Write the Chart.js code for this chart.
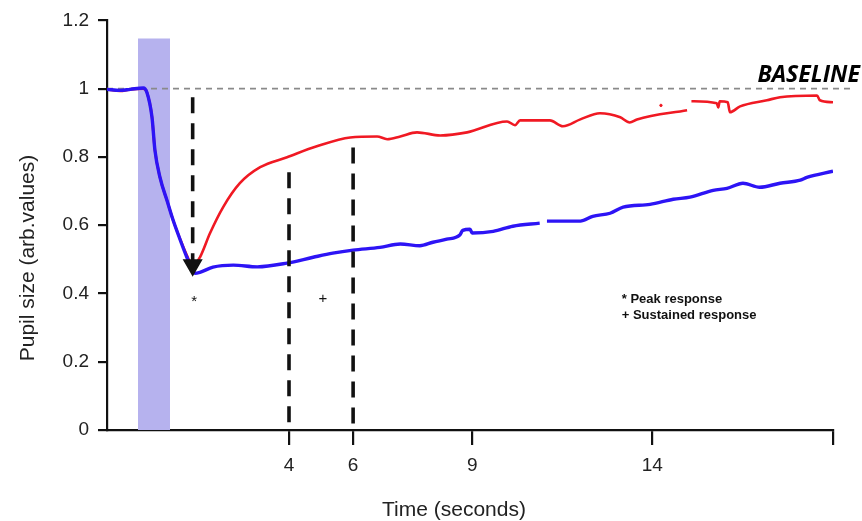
<!DOCTYPE html>
<html>
<head>
<meta charset="utf-8">
<script src="https://cdn.jsdelivr.net/npm/chart.js@4/dist/chart.umd.min.js"></script>
<style>
  html, body { margin: 0; padding: 0; background: #ffffff; }
  #wrap { width: 862px; height: 521px; }
</style>
</head>
<body>
<div id="wrap"><canvas id="c" width="862" height="521"></canvas></div>
<script>
// ---- Data (x in axis-position units 0..100 along the time axis) ----
const xTickPositions = [25.07, 33.9, 50.3, 75.1, 100];
const xTickLabels = ['4', '6', '9', '14', ''];
const yTicks = [0, 0.2, 0.4, 0.6, 0.8, 1, 1.2];

const blueX = [0, 1.8, 3.2, 5.0, 5.5, 6.2, 6.6, 7.3, 8.3, 9.1, 10.1, 11.0, 11.8, 12.1, 12.8, 14.6, 17.4, 20.7, 24.8, 28.4, 31.1, 33.9, 37.6, 40.4, 43.1, 44.9, 46.8, 48.6, 49.0, 50.0, 50.3, 53.2, 55.9, 59.6, 60.1, 60.6, 65.2, 66.9, 69.3, 71.1, 74.8, 78.0, 80.3, 83.5, 85.4, 87.6, 89.9, 92.7, 95.5, 96.4, 100];
const blueY = [0.998, 0.995, 0.998, 1.002, 0.989, 0.916, 0.82, 0.74, 0.67, 0.615, 0.556, 0.506, 0.47, 0.459, 0.462, 0.477, 0.483, 0.478, 0.489, 0.506, 0.518, 0.527, 0.535, 0.545, 0.54, 0.55, 0.559, 0.571, 0.585, 0.588, 0.577, 0.582, 0.597, 0.606, null, 0.612, 0.612, 0.626, 0.635, 0.653, 0.661, 0.676, 0.682, 0.702, 0.708, 0.723, 0.711, 0.723, 0.732, 0.740, 0.758];

const redX = [0, 1.8, 3.2, 5.0, 5.5, 6.2, 6.6, 7.3, 8.3, 9.1, 10.1, 11.0, 11.8, 12.8, 14.2, 16.0, 18.3, 21.1, 24.8, 28.9, 33.5, 37.2, 38.6, 40.4, 42.7, 45.9, 49.6, 55.1, 56.2, 56.9, 61.0, 62.8, 65.2, 67.9, 70.7, 72.0, 73.0, 79.9, 80.1, 80.5, 84.0, 84.2, 84.4, 85.5, 85.8, 87.2, 90.9, 92.7, 97.8, 98.2, 100];
const redY = [0.998, 0.993, 0.998, 1.0, 0.989, 0.916, 0.82, 0.74, 0.67, 0.615, 0.558, 0.512, 0.48, 0.506, 0.577, 0.653, 0.723, 0.770, 0.799, 0.831, 0.857, 0.860, 0.852, 0.860, 0.872, 0.863, 0.872, 0.904, 0.893, 0.907, 0.907, 0.890, 0.910, 0.928, 0.916, 0.901, 0.910, 0.937, null, 0.963, 0.957, 0.945, 0.963, 0.960, 0.931, 0.948, 0.966, 0.975, 0.980, 0.966, 0.960];
const redDotX = [76.3];
const redDotY = [0.951];

const stimulusX = [4.27, 8.68];
const stimulusTop = 1.147;
const baselineX = [0, 102.75];
const baselineValue = 1;

const peakLineX = 11.8, peakLineY = [0.975, 0.483];
const sustainLine1X = 25.07, sustainLine1Y = [0.755, 0];
const sustainLine2X = 33.9, sustainLine2Y = [0.828, 0];

const pts = (xs, ys) => xs.map((x, i) => ({ x: x, y: ys[i] }));

const FONT = '"Liberation Sans", Arial, Helvetica, sans-serif';

const annotations = {
  id: 'annotations',
  afterDraw(chart) {
    const ctx = chart.ctx;
    const xs = chart.scales.x, ys = chart.scales.y;
    ctx.save();
    ctx.fillStyle = '#222';
    // axis titles
    ctx.font = '21px ' + FONT;
    ctx.textAlign = 'center';
    ctx.textBaseline = 'middle';
    ctx.fillText('Time (seconds)', 454, 510);
    ctx.save();
    ctx.translate(28, 258);
    ctx.rotate(-Math.PI / 2);
    ctx.fillText('Pupil size (arb.values)', 0, 0);
    ctx.restore();
    // markers
    ctx.fillStyle = '#111';
    ctx.font = '15px ' + FONT;
    ctx.fillText('*', xs.getPixelForValue(12.0), ys.getPixelForValue(0.375));
    ctx.fillText('+', xs.getPixelForValue(29.75), ys.getPixelForValue(0.383));
    // note
    ctx.textAlign = 'left';
    ctx.font = 'bold 13px ' + FONT;
    ctx.fillText('* Peak response', xs.getPixelForValue(70.9), ys.getPixelForValue(0.383));
    ctx.fillText('+ Sustained response', xs.getPixelForValue(70.9), ys.getPixelForValue(0.337));
    // baseline label
    ctx.textAlign = 'right';
    ctx.font = 'italic bold 23px "Open Sans", sans-serif';
    ctx.fillStyle = '#000';
    ctx.fillText('BASELINE', xs.getPixelForValue(103.7), ys.getPixelForValue(1.04));
    ctx.restore();
  }
};

new Chart(document.getElementById('c'), {
  type: 'line',
  data: {
    datasets: [
      {
        label: 'Stimulus', data: pts(stimulusX, stimulusX.map(() => stimulusTop)),
        borderWidth: 0, borderColor: 'rgba(0,0,0,0)', pointRadius: 0,
        fill: 'origin', backgroundColor: 'rgb(182,178,238)', order: 10
      },
      {
        label: 'Baseline', data: pts(baselineX, baselineX.map(() => baselineValue)),
        borderColor: '#8a8a8a', borderWidth: 1.6, borderDash: [6, 5], pointRadius: 0,
        clip: false, order: 9
      },
      {
        label: 'Red', data: pts(redX, redY), borderColor: 'rgb(240,25,35)', borderWidth: 2.6,
        pointRadius: 0, cubicInterpolationMode: 'monotone', spanGaps: false, order: 6
      },
      {
        label: 'RedDot', data: pts(redDotX, redDotY), borderColor: 'rgb(240,25,35)',
        backgroundColor: 'rgb(240,25,35)', pointRadius: 1.2, showLine: false, order: 6
      },
      {
        label: 'Blue', data: pts(blueX, blueY), borderColor: 'rgb(45,20,245)', borderWidth: 3.4,
        pointRadius: 0, cubicInterpolationMode: 'monotone', spanGaps: false, order: 5
      },
      {
        label: 'Peak', data: pts([peakLineX, peakLineX], peakLineY), borderColor: '#111',
        borderWidth: 3.6, borderDash: [16, 10], pointRadius: [0, 8], pointStyle: 'triangle',
        rotation: 180, pointBackgroundColor: '#111', pointBorderColor: '#111', order: 1
      },
      {
        label: 'S1', data: pts([sustainLine1X, sustainLine1X], sustainLine1Y), borderColor: '#111',
        borderWidth: 3.6, borderDash: [16, 10], pointRadius: 0, order: 1
      },
      {
        label: 'S2', data: pts([sustainLine2X, sustainLine2X], sustainLine2Y), borderColor: '#111',
        borderWidth: 3.6, borderDash: [16, 10], pointRadius: 0, order: 1
      }
    ]
  },
  options: {
    responsive: false,
    animation: false,
    devicePixelRatio: 1,
    layout: { padding: { top: 20, right: 29, left: 0, bottom: 0 } },
    plugins: { legend: { display: false }, tooltip: { enabled: false } },
    scales: {
      x: {
        type: 'linear', min: 0, max: 100,
        afterBuildTicks: s => { s.ticks = xTickPositions.map(v => ({ value: v })); },
        afterFit: s => { s.height = 91; },
        ticks: {
          autoSkip: false, maxRotation: 0, padding: 9, color: '#222',
          font: { family: FONT, size: 19 },
          callback: (v) => { const i = xTickPositions.indexOf(v); return i >= 0 ? xTickLabels[i] : ''; }
        },
        grid: { drawOnChartArea: false, drawTicks: true, tickLength: 15, color: '#111', lineWidth: 2.2 },
        border: { display: true, color: '#111', width: 2.2 }
      },
      y: {
        type: 'linear', min: 0, max: 1.2,
        afterBuildTicks: s => { s.ticks = yTicks.map(v => ({ value: v })); },
        afterFit: s => { s.width = 107; },
        ticks: {
          padding: 9, color: '#222', font: { family: FONT, size: 19 },
          callback: v => String(+Number(v).toFixed(1))
        },
        grid: { drawOnChartArea: false, drawTicks: true, tickLength: 9, color: '#111', lineWidth: 2.2 },
        border: { display: true, color: '#111', width: 2.2 }
      }
    }
  },
  plugins: [annotations]
});
</script>
</body>
</html>
